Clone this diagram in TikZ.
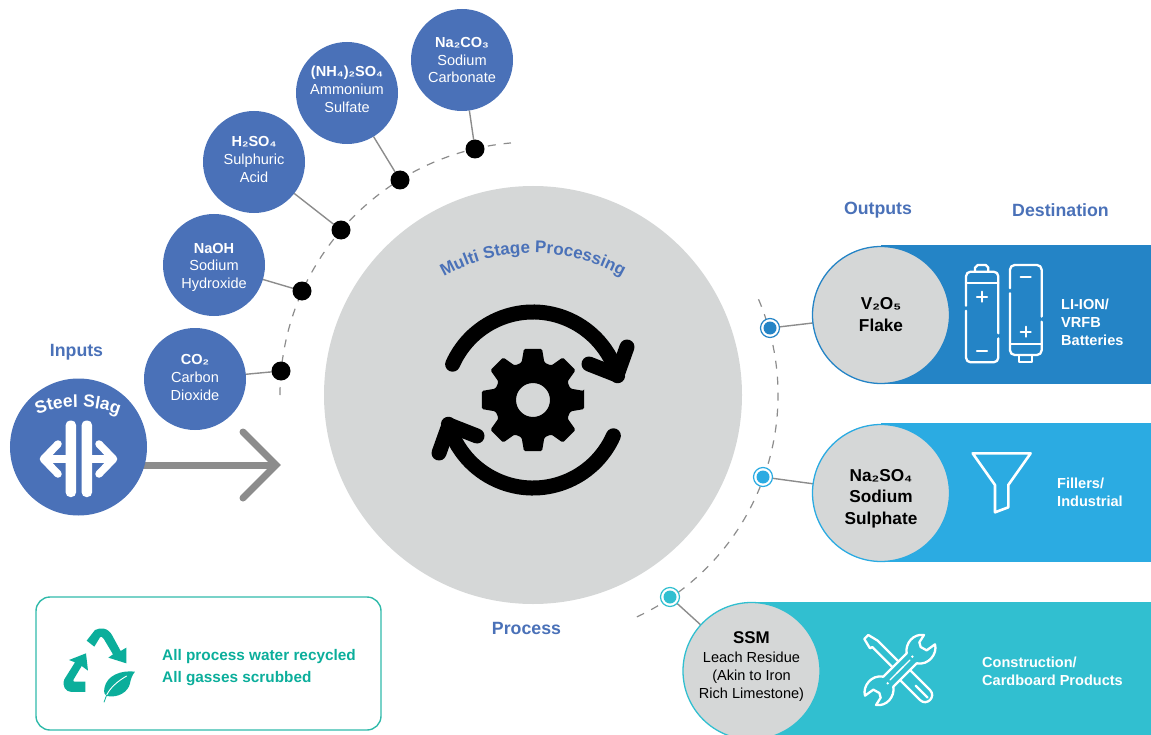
\documentclass[tikz,border=0pt]{standalone}
\usepackage{fontspec}
\setmainfont{Liberation Sans}
\usetikzlibrary{decorations.text,backgrounds}
\definecolor{inblue}{HTML}{4A71B8}
\definecolor{bandA}{HTML}{2484C6}
\definecolor{bandB}{HTML}{2BABE2}
\definecolor{bandC}{HTML}{31BFD0}
\definecolor{procgrey}{HTML}{D5D7D7}
\definecolor{linegrey}{HTML}{8C8C8C}
\definecolor{teal}{HTML}{0BAE9B}
\newcommand{\fsz}[2]{\fontsize{#1}{#2}\selectfont}
\tikzset{
  incircle/.style={circle,fill=inblue,minimum size=102bp,inner sep=0pt,outer sep=0pt,text=white,align=center,font=\fsz{14.6}{18}},
  outcircle/.style={circle,fill=procgrey,draw=#1,line width=1.3bp,minimum size=137bp,inner sep=0pt,outer sep=0pt,text=black,align=center,font=\fsz{17.3}{22}},
  blackdot/.style={circle,fill=black,minimum size=19bp,inner sep=0pt,outer sep=0pt},
  ringdot/.style={circle,fill=white,draw=#1,line width=1.2bp,minimum size=19bp,inner sep=0pt,outer sep=0pt},
  coredot/.style={circle,fill=#1,minimum size=13bp,inner sep=0pt},
  link/.style={draw=linegrey,line width=1.4bp},
  dashedarc/.style={draw=linegrey,line width=1.2bp,dash pattern=on 8bp off 8bp},
  head/.style={text=inblue,font=\fsz{17.8}{20}\bfseries},
  dest/.style={text=white,anchor=west,align=left,inner sep=0pt,font=\fsz{14.6}{18}\bfseries},
  icon/.style={draw=white,line width=2.3bp,line cap=round,line join=round},
  turn/.style={draw=black,line width=15bp,line cap=round,line join=round},
}
\begin{document}
\begin{tikzpicture}[x=1bp,y=-1bp]
\useasboundingbox (0,0) rectangle (1151,735);
% bands
\fill[bandA] (881,245) rectangle (1151,384);
\fill[bandB] (881,423) rectangle (1151,562);
\fill[bandC] (751,602) rectangle (1151,735);
% main circle
\node[circle,fill=procgrey,minimum size=418bp,inner sep=0pt,outer sep=0pt] (proc) at (533,395) {};
% inputs
\node[incircle] (co) at (195,379) {\textbf{CO₂}\\Carbon\\Dioxide\\[-14pt]\mbox{}};
\node[incircle] (naoh) at (214,265) {\rule{0pt}{15pt}\textbf{NaOH}\\Sodium\\Hydroxide};
\node[incircle] (hso) at (254,162) {\textbf{H₂SO₄}\\Sulphuric\\Acid\\[-13pt]\mbox{}};
\node[incircle] (nhso) at (347,93) {\textbf{(NH₄)₂SO₄}\\Ammonium\\Sulfate\\[-10pt]\mbox{}};
\node[incircle] (naco) at (462,60) {\textbf{Na₂CO₃}\\Sodium\\Carbonate};
\node[blackdot] (d1) at (281,371) {};
\node[blackdot] (d2) at (302,291) {};
\node[blackdot] (d3) at (341,230) {};
\node[blackdot] (d4) at (400,180) {};
\node[blackdot] (d5) at (475,149) {};
% steel slag
\node[circle,fill=inblue,minimum size=137bp,inner sep=0pt,outer sep=0pt] (slag) at (78.5,447) {};
\coordinate (tip) at (276,465);
\draw[white,decorate,decoration={text along path,text align=center,
  text={|\fsz{17.5}{17}\bfseries\color{white}|Steel Slag}}]
  ([shift={(78,521)}]-114:114) arc[start angle=-114,end angle=-66,radius=114];
\fill[white,rounded corners=4.5bp] (65.7,420.5) rectangle (76,497);
\fill[white,rounded corners=4.5bp] (81.7,420.5) rectangle (92,497);
\draw[white,line width=7.5bp,line cap=round,line join=round] (58,444) -- (43.5,459) -- (58,474);
\draw[white,line width=7.5bp,line cap=round,line join=round] (99,444) -- (113.5,459) -- (99,474);
\draw[white,line width=8bp] (46,459) -- (65.7,459) (92,459) -- (111,459);
% text on main circle
\draw[decorate,decoration={text along path,text align=center,
  text={|\fsz{17}{17}\bfseries\color{inblue}|Multi Stage Processing}}]
  ([shift={(533,433)}]-120:180) arc[start angle=-120,end angle=-60,radius=180];
% gear and turning arrows
\begin{scope}[shift={(533,400)}]
\fill[black,even odd rule,rounded corners=1.5bp] (-10:52)
  \foreach \a in {0,45,...,315}{ -- (\a-10:52) -- (\a+10:52) -- (\a+17:39) -- (\a+28:39) } -- cycle
  (0,0) circle (17);
\draw[turn] (-156:88) arc[start angle=-156,end angle=-16,radius=88];
\draw[turn] (24:88) arc[start angle=24,end angle=164,radius=88];
\end{scope}
\draw[turn] (627,347) -- (617,375) -- (589,364);
\draw[turn] (439,453) -- (449,425) -- (477,436);
% outputs
\node[outcircle=bandA] (vo) at (881,315) {\textbf{V₂O₅}\\\textbf{Flake}};
\node[outcircle=bandB] (naso) at (881,493) {\rule{0pt}{23.5pt}\textbf{Na₂SO₄}\\\textbf{Sodium}\\\textbf{Sulphate}};
\node[outcircle=bandC,font=\fsz{14.6}{18}] (ssm) at (751.5,671) {{\fsz{17}{18}\textbf{SSM}}\\[1pt]Leach Residue\\(Akin to Iron\\Rich Limestone)\\[-6pt]\mbox{}};
\node[ringdot=bandA] (r1) at (770,328) {};
\node[ringdot=bandB] (r2) at (763,477) {};
\node[ringdot=bandC] (r3) at (670,597) {};
\node[coredot=bandA] (r1i) at (r1) {};
\node[coredot=bandB] (r2i) at (r2) {};
\node[coredot=bandC] (r3i) at (r3) {};
% connectors behind
\begin{scope}[on background layer]
\draw[dashedarc] ([shift={(533,395)}]-180:253) arc[start angle=-180,end angle=-95,radius=253];
\draw[dashedarc] ([shift={(533,395)}]-23:245) arc[start angle=-23,end angle=65,radius=245];
\draw[link] (co) -- (d1);
\draw[link] (naoh) -- (d2);
\draw[link] (hso) -- (d3);
\draw[link] (nhso) -- (d4);
\draw[link] (naco) -- (d5);
\draw[link] (r1) -- (vo);
\draw[link] (r2) -- (naso);
\draw[link] (r3) -- (ssm);
\draw[draw=linegrey,line width=7bp] (slag.center |- tip) -- (tip);
\draw[draw=linegrey,line width=7bp,line cap=round,line join=miter] (243,432) -- (tip) -- (243,498);
\end{scope}
% labels
\node[head] (linputs) at (76.5,352.5) {Inputs};
\node[head] (loutputs) at (878,210) {Outputs};
\node[head] (ldest) at (1060.5,210) {Destination};
\node[head] (lproc) at (526.5,628) {Process};
\node[dest] (t1) at (1061,322) {LI-ION/\\VRFB\\Batteries};
\node[dest] (t2) at (1057,492) {Fillers/\\Industrial};
\node[dest] (t3) at (982,671) {Construction/\\Cardboard Products};
% batteries
\begin{scope}[shift={(955,255)},x=0.3333bp,y=-0.3333bp]
\draw[icon] (33,152) -- (33,64) arc[start angle=180,end angle=270,radius=14] -- (116,50) arc[start angle=-90,end angle=0,radius=14] -- (130,235);
\draw[icon] (130,250) -- (130,308) arc[start angle=0,end angle=90,radius=14] -- (47,322) arc[start angle=90,end angle=180,radius=14] -- (33,167);
\draw[icon] (33,85) -- (130,85);
\draw[icon] (60,50) -- (60,38) -- (68,30) -- (92,30) -- (100,38) -- (100,50);
\draw[icon] (66,125) -- (96,125) (81,110) -- (81,140);
\draw[icon] (66,288) -- (96,288);
\draw[icon] (165,100) -- (165,44) arc[start angle=180,end angle=270,radius=14] -- (246,30) arc[start angle=-90,end angle=0,radius=14] -- (260,185);
\draw[icon] (260,200) -- (260,286) arc[start angle=0,end angle=90,radius=14] -- (179,300) arc[start angle=90,end angle=180,radius=14] -- (165,115);
\draw[icon] (165,268) -- (260,268);
\draw[icon] (192,300) -- (192,322) -- (232,322) -- (232,300);
\draw[icon] (197,67) -- (227,67);
\draw[icon] (197,230) -- (227,230) (212,215) -- (212,245);
\end{scope}
% funnel
\begin{scope}[shift={(750,420)},x=0.3333bp,y=-0.3333bp]
\draw[icon,line width=2.6bp] (668,100) -- (842,100) -- (775,195) -- (775,262) -- (735,277) -- (735,195) -- cycle;
\end{scope}
% tools
\begin{scope}[shift={(855,625)},x=0.3333bp,y=-0.3333bp]
\draw[icon] (130,109) -- (75,54) -- (68,47) -- (40,30) -- (28,42) -- (45,70) -- (52,66) -- (113,127);
\draw[icon] (165,135) -- (225,195) .. controls (245,215) and (215,245) .. (195,225) -- (135,165);
\draw[icon] (182,182) -- (218,218);
\foreach \r in {0,180}{
\begin{scope}[rotate around={\r:(135,135)}]
\draw[icon] (120,120) -- (155,85) .. controls (150,55) and (175,25) .. (207,30)
   -- (193,52) -- (197,66) -- (215,76) -- (240,58) .. controls (248,85) and (222,122) .. (185,115) -- (150,150);
\draw[icon,line width=1.4bp] (125,145) -- (165,105);
\fill[white] (172,95) circle (4);
\end{scope}}
\end{scope}
% recycled box
\node[draw=teal!85!white,line width=1.4bp,rounded corners=14bp,minimum width=345bp,minimum height=133bp,inner sep=0pt] (box) at (208.5,663.5) {};
\node[anchor=west,align=left,inner sep=0pt,text=teal,font=\fsz{15.4}{22}\bfseries] (boxt) at (162,668) {All process water recycled\\All gasses scrubbed};
\begin{scope}[shift={(55,620)},x=0.3333bp,y=-0.3333bp]
\fill[teal] (95,62) -- (120,30) .. controls (135,22) and (160,22) .. (172,47) -- (197,93) -- (214,83) -- (214,130) -- (160,113) -- (174,103) -- (146,56) .. controls (143,50) and (137,48) .. (135,52) -- (118,80) -- cycle;
\fill[teal] (93,100) -- (42,120) -- (60,127) -- (28,178) .. controls (20,198) and (32,216) .. (50,216) -- (91,216) -- (91,185) -- (58,185) .. controls (55,185) and (54,182) .. (56,178) -- (80,138) -- (99,152) -- cycle;
\fill[teal] (240,155) .. controls (200,150) and (155,165) .. (148,205) .. controls (146,220) and (150,225) .. (155,228) .. controls (190,235) and (220,215) .. (225,190) .. controls (228,175) and (232,165) .. (240,155) -- cycle;
\draw[teal,line width=0.8bp] (147,247) -- (155,225);
\draw[white,line width=0.9bp] (155,225) .. controls (165,205) and (185,185) .. (215,168);
\end{scope}
\end{tikzpicture}
\end{document}
